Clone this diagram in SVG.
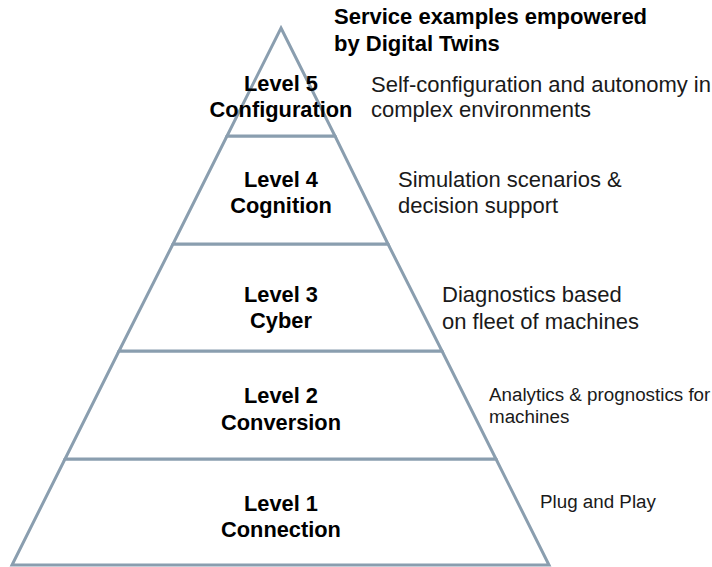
<svg xmlns="http://www.w3.org/2000/svg" width="712" height="567" viewBox="0 0 712 567">
<style>
.tier{fill:#fff;stroke:#8a9eaf;stroke-width:3;stroke-linejoin:miter}
.lvl{font-family:"Liberation Sans",Arial,sans-serif;font-weight:bold;font-size:21.8px;fill:#000;text-anchor:middle}
.desc{font-family:"Liberation Sans",Arial,sans-serif;font-size:22px;fill:#1a1a1a}
.small{font-size:18.8px}
.head{font-family:"Liberation Sans",Arial,sans-serif;font-weight:bold;font-size:22px;fill:#000}
</style>
<rect width="712" height="567" fill="#fff"/>
<g id="heading">
<text class="head" x="334" y="24">Service examples empowered</text>
<text class="head" x="334" y="51">by Digital Twins</text>
</g>
<g id="level1">
<polygon class="tier" points="65,459 496,459 549,565 12,565"/>
<text class="lvl" x="281" y="511">Level 1</text>
<text class="lvl" x="281" y="537">Connection</text>
<text class="desc small" x="540" y="508">Plug and Play</text>
</g>
<g id="level2">
<polygon class="tier" points="119,351 442,351 496,459 65,459"/>
<text class="lvl" x="281" y="403">Level 2</text>
<text class="lvl" x="281" y="430">Conversion</text>
<text class="desc small" x="489" y="401">Analytics &amp; prognostics for</text>
<text class="desc small" x="489" y="423">machines</text>
</g>
<g id="level3">
<polygon class="tier" points="173,244 388,244 442,351 119,351"/>
<text class="lvl" x="281" y="302">Level 3</text>
<text class="lvl" x="281" y="328">Cyber</text>
<text class="desc" x="442" y="302">Diagnostics based</text>
<text class="desc" x="442" y="329">on fleet of machines</text>
</g>
<g id="level4">
<polygon class="tier" points="227,136 335,136 388,244 173,244"/>
<text class="lvl" x="281" y="187">Level 4</text>
<text class="lvl" x="281" y="213">Cognition</text>
<text class="desc" x="398" y="187">Simulation scenarios &amp;</text>
<text class="desc" x="398" y="213">decision support</text>
</g>
<g id="level5">
<polygon class="tier" points="281,28 335,136 227,136"/>
<text class="lvl" x="281" y="91">Level 5</text>
<text class="lvl" x="281" y="117">Configuration</text>
<text class="desc" x="371" y="92">Self-configuration and autonomy in</text>
<text class="desc" x="371" y="117">complex environments</text>
</g>
<g id="connectors"/>
</svg>
